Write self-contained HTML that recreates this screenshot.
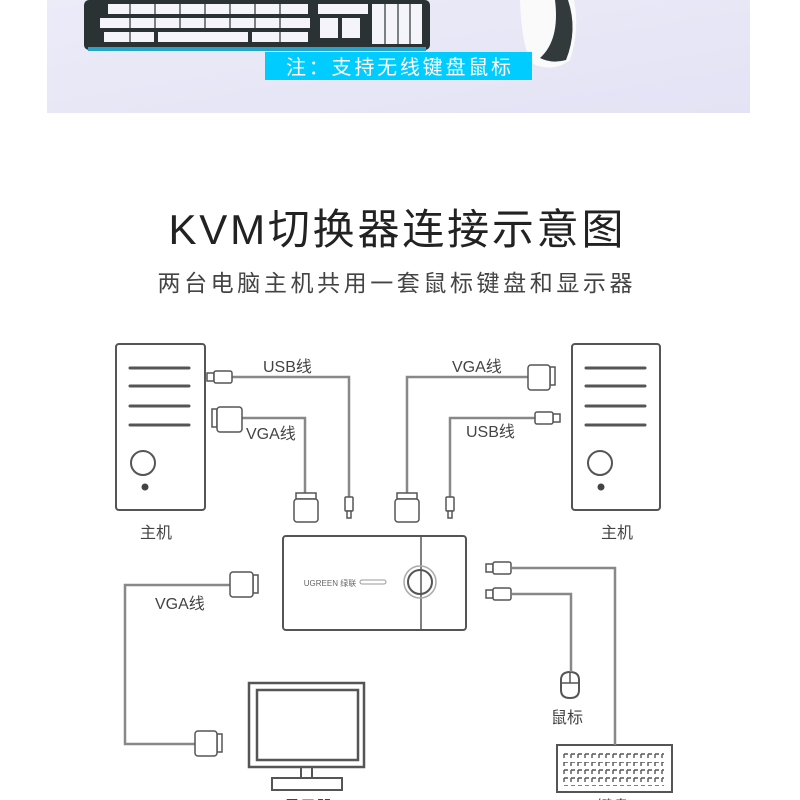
<!DOCTYPE html>
<html><head><meta charset="utf-8"><style>
html,body{margin:0;padding:0;background:#fff;}
svg{display:block;}
text{font-family:"Liberation Sans","Noto Sans CJK SC",sans-serif;}
</style></head><body>
<svg width="800" height="800" viewBox="0 0 800 800" xmlns="http://www.w3.org/2000/svg">
<defs>
<linearGradient id="bg" x1="0" y1="0" x2="1" y2="1"><stop offset="0" stop-color="#ecebf8"/><stop offset="1" stop-color="#e3e3f5"/></linearGradient>
<pattern id="keys" x="563" y="0" width="7" height="8" patternUnits="userSpaceOnUse"><path d="M1 2 H5 M1 2 V6" stroke="#555" stroke-width="1.4" fill="none"/></pattern>
</defs>
<rect x="47" y="0" width="703" height="113" fill="url(#bg)"/>
<rect x="84" y="0" width="346" height="50" rx="5" fill="#2a3234"/>
<rect x="88" y="47" width="338" height="4" fill="#2aa3c8"/>
<g fill="#f4f4fa">
<rect x="108" y="4" width="200" height="10"/><rect x="100" y="18" width="210" height="10"/><rect x="104" y="32" width="50" height="10"/><rect x="158" y="32" width="90" height="10"/><rect x="252" y="32" width="56" height="10"/>
<rect x="318" y="4" width="50" height="10"/><rect x="320" y="18" width="18" height="20"/><rect x="342" y="18" width="18" height="20"/><rect x="372" y="4" width="50" height="40"/>
</g>
<g stroke="#2a3234" stroke-width="1.2"><line x1="130" y1="4" x2="130" y2="44"/><line x1="155" y1="4" x2="155" y2="44"/><line x1="180" y1="4" x2="180" y2="30"/><line x1="205" y1="4" x2="205" y2="30"/><line x1="230" y1="4" x2="230" y2="30"/><line x1="255" y1="4" x2="255" y2="30"/><line x1="280" y1="4" x2="280" y2="44"/><line x1="385" y1="4" x2="385" y2="44"/><line x1="398" y1="4" x2="398" y2="44"/><line x1="410" y1="4" x2="410" y2="44"/></g>
<path d="M520 0 L574 0 Q580 30 570 60 Q555 72 535 65 Q522 55 520 0Z" fill="#fafafa"/>
<path d="M568 0 Q578 30 566 60 Q552 64 540 58 Q560 40 555 0Z" fill="#333a3c"/>
<rect x="265" y="52" width="267" height="28" fill="#00ccff"/>
<text x="398.5" y="74" text-anchor="middle" font-size="20" fill="#fff" textLength="225">注：支持无线键盘鼠标</text>

<text x="396" y="244" text-anchor="middle" font-size="42" fill="#222" textLength="455">KVM切换器连接示意图</text>
<text x="395" y="291" text-anchor="middle" font-size="23" fill="#444" textLength="475">两台电脑主机共用一套鼠标键盘和显示器</text>

<g fill="none" stroke="#555" stroke-width="2">
<rect x="116" y="344" width="89" height="166" rx="3"/>
<circle cx="143" cy="463" r="12"/>
<rect x="572" y="344" width="88" height="166" rx="3"/>
<circle cx="600" cy="463" r="12"/>
<rect x="283" y="536" width="183" height="94" rx="3"/>
<line x1="421" y1="536" x2="421" y2="630" stroke-width="1.5"/>
<circle cx="420" cy="582" r="12"/>
<circle cx="420" cy="582" r="16" stroke="#aaa" stroke-width="1.5"/>
<rect x="249" y="683" width="115" height="84" stroke-width="2.5"/>
<rect x="257" y="690" width="101" height="70" stroke-width="2.5"/>
<rect x="301" y="767" width="11" height="11"/>
<rect x="272" y="778" width="70" height="12"/>
<path d="M561 680 Q561 672 570 672 Q579 672 579 680 L579 690 Q579 698 570 698 Q561 698 561 690Z"/>
<line x1="561" y1="683" x2="579" y2="683" stroke-width="1.5"/><line x1="570" y1="672" x2="570" y2="683" stroke-width="1.5"/>
<rect x="557" y="745" width="115" height="47"/>
</g>
<g stroke="#555" stroke-width="3" stroke-linecap="round">
<line x1="130" y1="368" x2="189" y2="368"/><line x1="130" y1="386" x2="189" y2="386"/><line x1="130" y1="406" x2="189" y2="406"/><line x1="130" y1="425" x2="189" y2="425"/>
<line x1="586" y1="368" x2="645" y2="368"/><line x1="586" y1="386" x2="645" y2="386"/><line x1="586" y1="406" x2="645" y2="406"/><line x1="586" y1="425" x2="645" y2="425"/>
</g>
<circle cx="145" cy="487" r="3.5" fill="#444"/><circle cx="601" cy="487" r="3.5" fill="#444"/>
<rect x="563" y="750" width="101" height="8" fill="url(#keys)"/>
<rect x="563" y="762" width="101" height="24" fill="url(#keys)"/>
<text x="330" y="586" font-size="8" fill="#666" text-anchor="middle">UGREEN 绿联</text>
<rect x="360" y="580" width="26" height="4" rx="2" fill="none" stroke="#999"/>

<g fill="none" stroke="#888" stroke-width="2.5">
<polyline points="232,377 349,377 349,497"/>
<polyline points="242,418 305,418 305,493"/>
<polyline points="528,377 407,377 407,493"/>
<polyline points="535,418 450,418 450,497"/>
<polyline points="230,585 125,585 125,744 195,744"/>
<polyline points="512,568 615,568 615,745"/>
<polyline points="512,594 571,594 571,672"/>
</g>
<g fill="#fff" stroke="#555" stroke-width="1.5">
<rect x="207" y="373" width="7" height="8"/><rect x="214" y="371" width="18" height="12" rx="2"/>
<rect x="553" y="414" width="7" height="8"/><rect x="535" y="412" width="18" height="12" rx="2"/>
<rect x="486" y="564" width="7" height="8"/><rect x="493" y="562" width="18" height="12" rx="2"/>
<rect x="486" y="590" width="7" height="8"/><rect x="493" y="588" width="18" height="12" rx="2"/>
<rect x="345" y="497" width="8" height="14" rx="1"/><rect x="347" y="511" width="4" height="7"/>
<rect x="446" y="497" width="8" height="14" rx="1"/><rect x="448" y="511" width="4" height="7"/>
<rect x="212" y="409" width="5" height="18"/><rect x="217" y="407" width="25" height="25" rx="3"/>
<rect x="550" y="367" width="5" height="18"/><rect x="528" y="365" width="22" height="25" rx="3"/>
<rect x="253" y="575" width="5" height="18"/><rect x="230" y="572" width="23" height="25" rx="3"/>
<rect x="217" y="734" width="5" height="18"/><rect x="195" y="731" width="22" height="25" rx="3"/>
<rect x="296" y="493" width="20" height="6"/><rect x="294" y="499" width="24" height="23" rx="3"/>
<rect x="397" y="493" width="20" height="6"/><rect x="395" y="499" width="24" height="23" rx="3"/>
</g>

<g font-size="16" fill="#444">
<text x="263" y="372">USB线</text>
<text x="246" y="439">VGA线</text>
<text x="452" y="372">VGA线</text>
<text x="466" y="437">USB线</text>
<text x="155" y="609">VGA线</text>
<text x="140" y="538">主机</text>
<text x="601" y="538">主机</text>
<text x="551" y="723">鼠标</text>
<text x="284" y="812">显示器</text>
<text x="597" y="812">键盘</text>
</g>
</svg>
</body></html>
